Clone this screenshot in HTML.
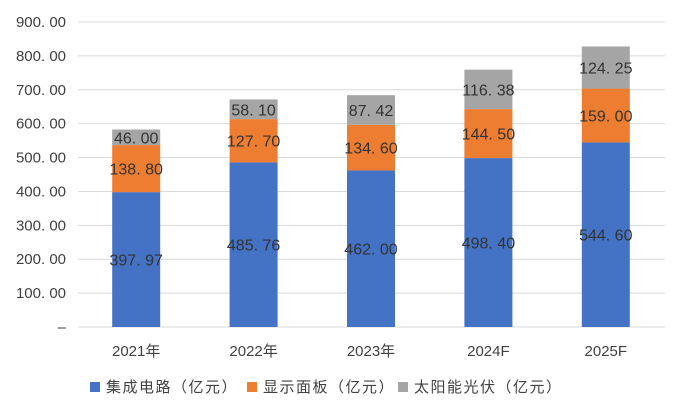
<!DOCTYPE html>
<html><head><meta charset="utf-8"><style>
body{margin:0;background:#fff;}
svg text{font-family:"Liberation Sans","Noto Sans CJK SC",sans-serif;}
</style></head><body>
<svg id="chart" width="676" height="400"></svg>
<script>
const categories=["2021年","2022年","2023年","2024F","2025F"];
const seriesNames=["集成电路（亿元）","显示面板（亿元）","太阳能光伏（亿元）"];
const icValues=[397.97,485.76,462.00,498.40,544.60];
const panelValues=[138.80,127.70,134.60,144.50,159.00];
const pvValues=[46.00,58.10,87.42,116.38,124.25];
const yTicks=[0,100,200,300,400,500,600,700,800,900];
const colors=["#4472c4","#ed7d31","#a5a5a5"];
const NS="http://www.w3.org/2000/svg";
const svg=document.getElementById('chart');
const y0=327,yMax=900,plotH=305,xL=78,xR=665;
const y=v=>y0-v/yMax*plotH;
const band=(xR-xL)/categories.length;
const xc=i=>xL+band*(i+0.5)-0.5;
const bw=48;
function mk(t,a){const e=document.createElementNS(NS,t);for(const k in a)e.setAttribute(k,a[k]);svg.appendChild(e);return e;}
yTicks.forEach((t,i)=>{
 const l=mk('line',{x1:xL,x2:xR,y1:y(t),y2:y(t),stroke:'#d9d9d9','stroke-width':1});
 
 
 const tx=mk('text',{x:66,y:y(t)+5,'text-anchor':'end','font-size':15,fill:'#404040'});
 tx.textContent=t===0?'–':t.toFixed(2).replace('.','. ');
 
 
});
const all=[icValues,panelValues,pvValues];
categories.forEach((c,i)=>{
 let base=0;
 all.forEach((arr,s)=>{
  const v=arr[i];
  const r=mk('rect',{x:xc(i)-bw/2,y:y(base+v),width:bw,height:y(base)-y(base+v),fill:colors[s]});
  
  
  const t=mk('text',{x:xc(i),y:y(base+v/2)+6,'text-anchor':'middle','font-size':16,fill:'#333'});
  t.textContent=v.toFixed(2).replace('.','. ');
  
  
  base+=v;
 });
 const xl=mk('text',{x:xc(i),y:356,'text-anchor':'middle','font-size':15,fill:'#404040'});
 xl.textContent=c;
 
 
});
const lx=[90,247,398];
seriesNames.forEach((n,s)=>{
 const r=mk('rect',{x:lx[s],y:382,width:10,height:10,fill:colors[s]});
 
 
 const t=mk('text',{x:lx[s]+16,y:392,'font-size':15,fill:'#404040','letter-spacing':'1.5'});
 t.textContent=n;
 
 
});
</script>
</body></html>
